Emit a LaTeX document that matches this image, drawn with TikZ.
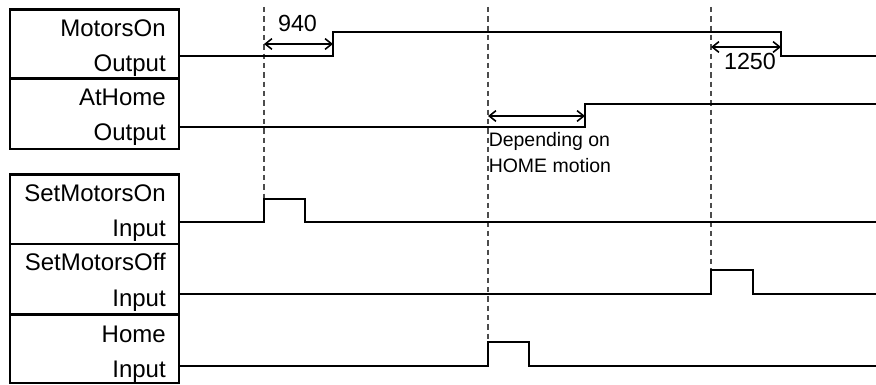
\documentclass[tikz,border=0pt]{standalone}
\usepackage{fontspec}
\setmainfont{Liberation Sans}
\usetikzlibrary{arrows.meta}

\tikzset{
  lbl/.style={anchor=base east, inner sep=0pt, font=\fontsize{18}{21}\selectfont},
  num/.style={anchor=base, inner sep=0pt, font=\fontsize{17.5}{20}\selectfont},
  note/.style={anchor=base west, inner sep=0pt, font=\fontsize{14.6}{18}\selectfont},
  frame/.style={line width=1.6pt},
  sig/.style={line width=1.5pt, line join=miter},
  guide/.style={line width=0.8pt, black!70, dash pattern=on 4pt off 3pt},
  dim/.style={line width=1.2pt, {Straight Barb[length=5pt,width=8pt]}-{Straight Barb[length=5pt,width=8pt]}},
}

\begin{document}
\begin{tikzpicture}[x=0.75pt, y=-0.75pt]
\useasboundingbox (0,0) rectangle (876,385);

% label boxes
\draw[frame] (10,9.5) rectangle (179,149);
\draw[frame] (10,78.5) -- (179,78.5);
\draw[frame] (10,174.5) rectangle (179,383);
\draw[frame] (10,244) -- (179,244);
\draw[frame] (10,314.5) -- (179,314.5);

\node[lbl] (mon) at (166,37) {MotorsOn};
\node[lbl] (monio) at (166,72) {Output};
\node[lbl] (ath) at (166,106) {AtHome};
\node[lbl] (athio) at (166,141) {Output};
\node[lbl] (smon) at (166,202) {SetMotorsOn};
\node[lbl] (smonio) at (166,237) {Input};
\node[lbl] (smoff) at (166,271) {SetMotorsOff};
\node[lbl] (smoffio) at (166,306) {Input};
\node[lbl] (home) at (166,342) {Home};
\node[lbl] (homeio) at (166,377) {Input};

% event times
\coordinate (ton) at (264,7);
\coordinate (thome) at (488,7);
\coordinate (toff) at (711,7);

% guides
\draw[guide] (ton) -- (264,199);
\draw[guide] (thome) -- (488,342);
\draw[guide] (toff) -- (711,270);

% waveforms
\draw[sig] (179,56) -- (333,56) -- (333,32.5) -- (781,32.5) -- (781,56) -- (876,56);
\draw[sig] (179,127) -- (585,127) -- (585,104) -- (876,104);
\draw[sig] (179,222) -- (264,222) -- (264,199) -- (305,199) -- (305,222) -- (876,222);
\draw[sig] (179,294) -- (711,294) -- (711,270) -- (753,270) -- (753,294) -- (876,294);
\draw[sig] (179,366) -- (488,366) -- (488,342) -- (529,342) -- (529,366) -- (876,366);

% delays
\coordinate (d1a) at (264,44);
\coordinate (d1b) at (333,44);
\coordinate (d2a) at (711,47);
\coordinate (d2b) at (781,47);
\coordinate (d3a) at (488,116);
\coordinate (d3b) at (585,116);
\draw[dim] (d1a) -- (d1b);
\draw[dim] (d2a) -- (d2b);
\draw[dim] (d3a) -- (d3b);

\node[num] (n940) at (297.5,31.5) {940};
\node[num] (n1250) at (750,70) {1250};
\node[note] (dep) at (488.5,146.5) {Depending on};
\node[note] (hm) at (488.5,173) {HOME motion};
\end{tikzpicture}
\end{document}
